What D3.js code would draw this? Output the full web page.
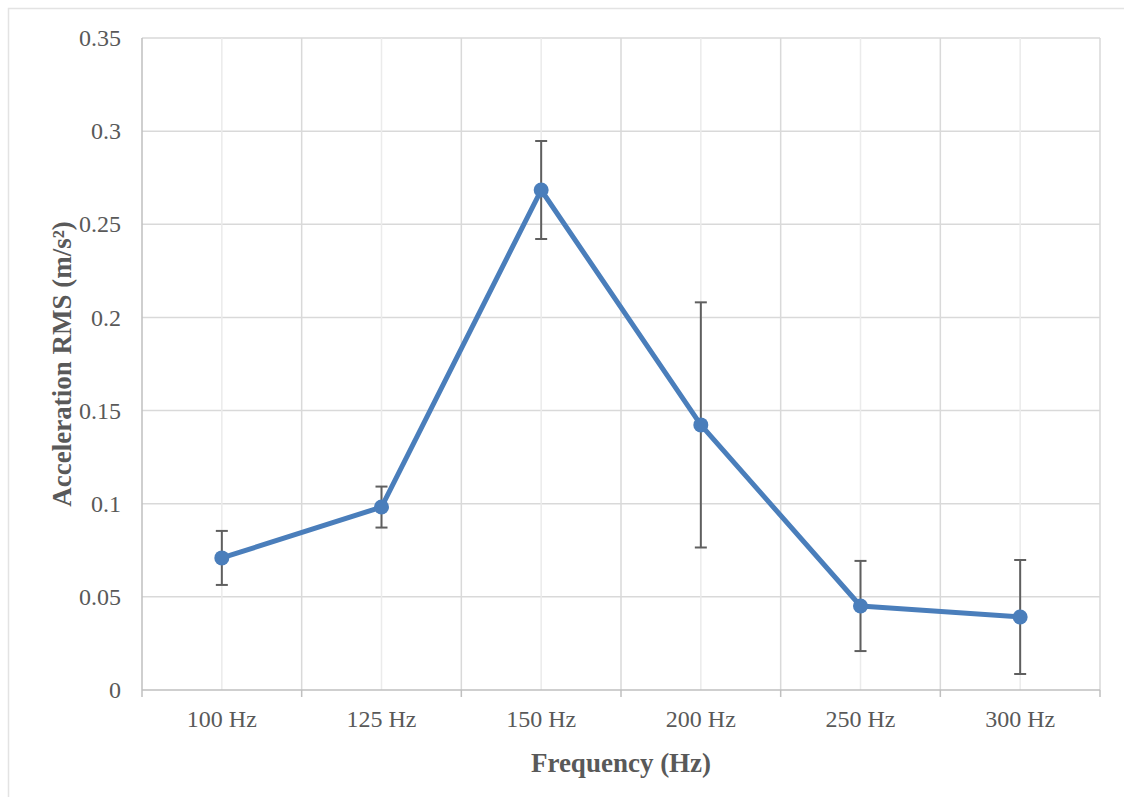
<!DOCTYPE html>
<html>
<head>
<meta charset="utf-8">
<script src="https://cdn.jsdelivr.net/npm/d3@7"></script>
<style>
  body { margin: 0; background: #fff; }
  svg { display: block; }
</style>
</head>
<body>
<svg id="chart" width="1124" height="797"></svg>
<script>
// data
let categories = ["100 Hz", "125 Hz", "150 Hz", "200 Hz", "250 Hz", "300 Hz"];
let rmsValues = [0.0709, 0.0982, 0.2684, 0.1423, 0.0451, 0.0392];
let rmsErrors = [0.0145, 0.0110, 0.0263, 0.0658, 0.0242, 0.0306];
let yTicks = [0, 0.05, 0.1, 0.15, 0.2, 0.25, 0.3, 0.35];

let fontFamily = "'Liberation Serif', 'Times New Roman', serif";
let textColor = "#595959";
let gridColor = "#d9d9d9";
let axisColor = "#bfbfbf";
let lineColor = "#4a7ebb";

function drawChart(svgId) {
    let svg = d3.select(svgId);
    let left = 142, right = 1100, top = 38, bottom = 690;

    // outer chart border (runs off the canvas on right/bottom)
    svg.append("rect")
        .attr("x", 8.5).attr("y", 8.5)
        .attr("width", 1200).attr("height", 1200)
        .style("fill", "none")
        .style("stroke", "#e3e3e3")
        .style("stroke-width", 1.5);

    let x = d3.scaleBand()
        .domain(categories)
        .range([left, right]);
    let y = d3.scaleLinear()
        .domain([0, 0.35])
        .range([bottom, top]);

    // horizontal gridlines
    svg.append("g").selectAll("line")
        .data(yTicks.slice(1))
        .enter().append("line")
        .attr("x1", left).attr("x2", right)
        .attr("y1", d => y(d)).attr("y2", d => y(d))
        .style("stroke", gridColor)
        .style("stroke-width", 1.5);

    // vertical gridlines at centers and category boundaries
    let bounds = categories.map(c => x(c)).concat([right]);
    svg.append("g").selectAll("line")
        .data(categories)
        .enter().append("line")
        .attr("x1", d => x(d) + x.bandwidth() / 2)
        .attr("x2", d => x(d) + x.bandwidth() / 2)
        .attr("y1", top).attr("y2", bottom)
        .style("stroke", "#ebebeb")
        .style("stroke-width", 1.5);
    svg.append("g").selectAll("line")
        .data(bounds.slice(1))
        .enter().append("line")
        .attr("x1", d => d).attr("x2", d => d)
        .attr("y1", top).attr("y2", bottom)
        .style("stroke", gridColor)
        .style("stroke-width", 1.5);

    // left axis line
    svg.append("line")
        .attr("x1", left).attr("x2", left)
        .attr("y1", top).attr("y2", bottom)
        .style("stroke", axisColor)
        .style("stroke-width", 1.5);

    // y axis labels
    svg.append("g").call(d3.axisLeft(y).tickValues(yTicks).tickSize(0).tickPadding(21)
            .tickFormat(d => d === 0 ? "0" : String(+d.toFixed(2))))
        .attr("transform", "translate(" + left + ",0)")
        .style("font-family", fontFamily)
        .style("font-size", "24px")
        .call(g => g.select(".domain").remove())
        .call(g => g.selectAll("text").style("fill", textColor));

    // x axis line + ticks at boundaries
    svg.append("line")
        .attr("x1", left).attr("x2", right)
        .attr("y1", bottom).attr("y2", bottom)
        .style("stroke", axisColor)
        .style("stroke-width", 1.5);
    svg.append("g").selectAll("line")
        .data(bounds)
        .enter().append("line")
        .attr("x1", d => d).attr("x2", d => d)
        .attr("y1", bottom).attr("y2", bottom + 7)
        .style("stroke", axisColor)
        .style("stroke-width", 1.5);

    svg.append("g").call(d3.axisBottom(x).tickSize(0).tickPadding(20))
        .attr("transform", "translate(0," + bottom + ")")
        .style("font-family", fontFamily)
        .style("font-size", "24px")
        .call(g => g.select(".domain").remove())
        .call(g => g.selectAll("text").style("fill", textColor));

    // axis titles
    svg.append("text")
        .attr("x", (left + right) / 2)
        .attr("y", 772)
        .attr("text-anchor", "middle")
        .style("font-family", fontFamily)
        .style("font-size", "27px")
        .style("font-weight", "bold")
        .style("fill", textColor)
        .text("Frequency (Hz)");
    svg.append("text")
        .attr("transform", "translate(71," + ((top + bottom) / 2) + ") rotate(-90)")
        .attr("text-anchor", "middle")
        .style("font-family", fontFamily)
        .style("font-size", "27px")
        .style("font-weight", "bold")
        .style("fill", textColor)
        .text("Acceleration RMS (m/s²)");

    let cx = (d, i) => x(categories[i]) + x.bandwidth() / 2;

    // error bars
    let errG = svg.append("g");
    rmsValues.forEach(function (v, i) {
        let e = rmsErrors[i];
        let xc = cx(v, i);
        errG.append("line")
            .attr("x1", xc).attr("x2", xc)
            .attr("y1", y(v + e)).attr("y2", y(v - e))
            .style("stroke", "#5f5f5f").style("stroke-width", 2);
        [v + e, v - e].forEach(function (t) {
            errG.append("line")
                .attr("x1", xc - 6).attr("x2", xc + 6)
                .attr("y1", y(t)).attr("y2", y(t))
                .style("stroke", "#5f5f5f").style("stroke-width", 2);
        });
    });

    // main line
    let line = d3.line()
        .x((d, i) => cx(d, i))
        .y(d => y(d));
    svg.append("path")
        .datum(rmsValues)
        .attr("d", line)
        .style("fill", "none")
        .style("stroke", lineColor)
        .style("stroke-width", 5)
        .style("stroke-linejoin", "round");

    svg.append("g").selectAll("circle")
        .data(rmsValues)
        .enter().append("circle")
        .attr("cx", (d, i) => cx(d, i))
        .attr("cy", d => y(d))
        .attr("r", 7.5)
        .style("fill", lineColor);
}

drawChart("#chart");
</script>
</body>
</html>
